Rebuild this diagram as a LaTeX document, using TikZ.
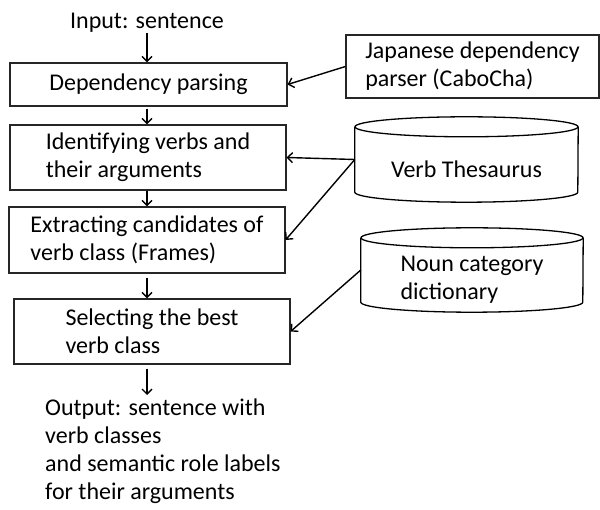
\documentclass[tikz,border=0pt]{standalone}
\usepackage{fontspec}
\setmainfont{Carlito}
\usetikzlibrary{arrows.meta}

% outline of a drum-shaped store around a text node: #1 node, #2 half width
\newcommand\drumoutline[2]{%
  \draw[drumline] ([yshift=10pt]#1.north) ellipse[x radius=#2, y radius=10pt];
  \draw[drumline] ([yshift=10pt]#1.north west) -- ([yshift=10pt]#1.south west)
    arc[start angle=180, end angle=360, x radius=#2, y radius=10pt]
    -- ([yshift=10pt]#1.north east);
}

\tikzset{
  txt/.style={font=\fontsize{24}{28}\selectfont, inner sep=0pt, align=left},
  stepbox/.style={txt, draw, line width=1.1pt, draw=black!85},
  drumbody/.style={txt},
  drumline/.style={line width=1.3pt},
  arr/.style={-{Straight Barb[length=5pt,width=10pt,line width=1.4pt]}, line width=1.4pt},
}

\begin{document}
\begin{tikzpicture}[x=1pt, y=-1pt]
  \useasboundingbox (0,0) rectangle (600,510);

  % main pipeline
  \node[txt, anchor=base] (in) at (147,29) {Input: sentence};
  \node[stepbox, minimum width=277, minimum height=43] (b1) at (148.5,84.5) {Dependency parsing};
  \node[stepbox, minimum width=276, minimum height=65] (b2) at (148,157.5) {Identifying verbs and\\their arguments};
  \node[stepbox, minimum width=276, minimum height=66] (b3) at (147,240) {Extracting candidates of\\verb class (Frames)};
  \node[stepbox, minimum width=276, minimum height=65] (b4) at (152,331.5) {Selecting the best\\verb class};
  \node[txt, anchor=north west] (out) at (45,399) {Output: sentence with\\verb classes\\and semantic role labels\\for their arguments};

  % resources
  \node[stepbox, minimum width=253, minimum height=63] (jp) at (472.5,66.5) {Japanese dependency\\parser (CaboCha)};
  \node[drumbody, minimum width=223, minimum height=65] (vt) at (466.5,169.5) {Verb Thesaurus};
  \drumoutline{vt}{111.5pt}
  \node[drumbody, minimum width=222, minimum height=64] (noun) at (472,280) {Noun category\\dictionary};
  \drumoutline{noun}{111pt}

  % flow arrows
  \draw[arr] (in.south -| in) -- (in |- b1.north);
  \draw[arr, shorten <=2pt] (b1.south -| in) -- (in |- b2.north);
  \draw[arr] (b2.south -| b3) -- (b3.north);
  \draw[arr, shorten <=4pt] (b3.south) -- (b3.south |- b4.north);
  \draw[arr, shorten <=4pt] (b4.south -| in) -- ([yshift=4pt]in |- out.north);

  % resource arrows
  \draw[arr] (jp.west) -- (b1.east);
  \draw[arr] ([yshift=10pt]vt.west) -- (b2.east);
  \draw[arr] ([yshift=10pt]vt.west) -- (b3.east);
  \draw[arr] ([yshift=10pt]noun.west) -- (b4.east);
\end{tikzpicture}
\end{document}
